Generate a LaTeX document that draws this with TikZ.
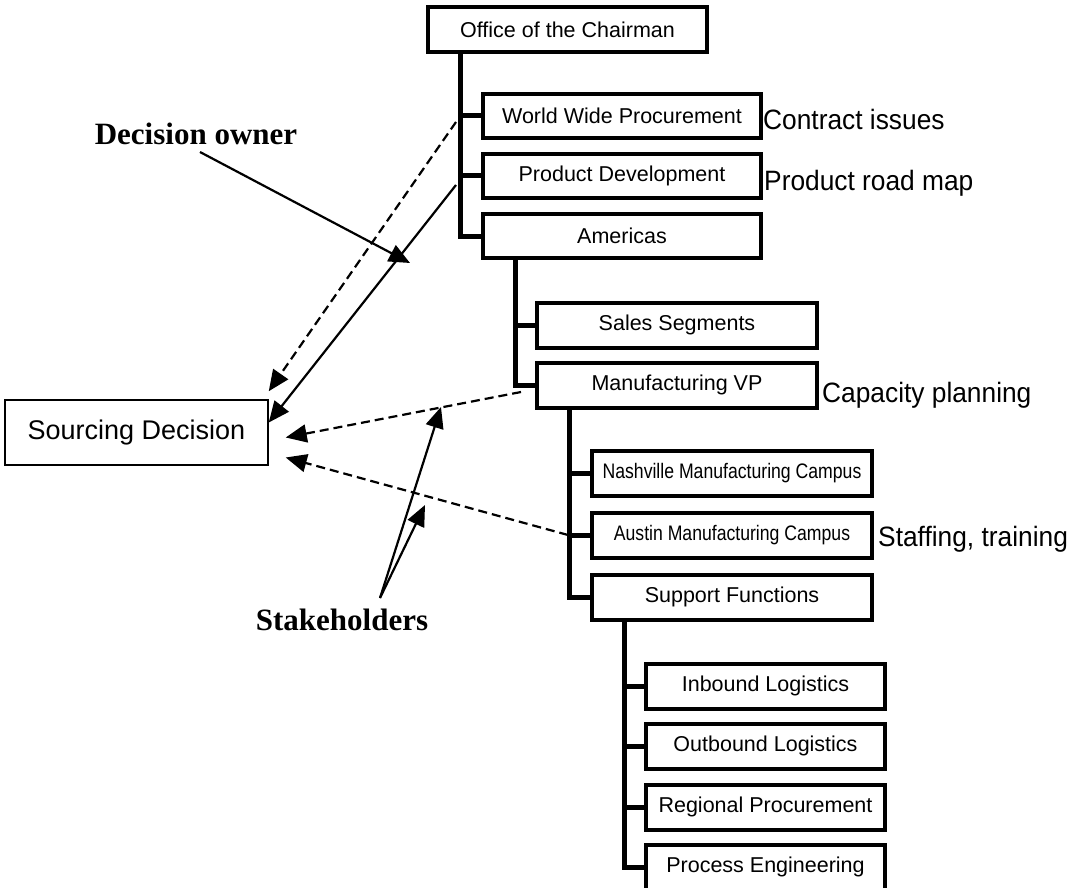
\documentclass[tikz,border=0pt]{standalone}
\usepackage{fontspec}
\setmainfont{Liberation Sans}
\newfontfamily\headfont{Liberation Serif}
\newfontfamily\narrowfont[FakeStretch=0.84]{Liberation Sans}
\newfontfamily\notefont[FakeStretch=0.94]{Liberation Sans}
\usetikzlibrary{arrows.meta}

\begin{document}
\begin{tikzpicture}[x=1pt,y=-1pt,
  orgbox/.style={draw, line width=4pt, inner sep=0pt, minimum height=44pt,
    font=\fontsize{21.5}{24}\selectfont},
  lvlzero/.style={orgbox, minimum width=279pt, minimum height=45pt},
  lvlone/.style={orgbox, minimum width=278pt},
  lvltwo/.style={orgbox, minimum width=280pt, minimum height=45pt},
  lvlthree/.style={orgbox, minimum width=280pt, minimum height=45pt},
  lvlfour/.style={orgbox, minimum width=239pt, minimum height=45pt},
  narrowtext/.style={font=\narrowfont\fontsize{21}{24}\selectfont},
  conn/.style={line width=5pt, line join=miter},
  note/.style={anchor=base west, inner sep=0pt, font=\notefont\fontsize{28}{32}\selectfont},
  callout/.style={anchor=base, inner sep=0pt, font=\headfont\bfseries\fontsize{31}{36}\selectfont},
  tip/.style={-{Triangle[length=21pt,width=18pt]}, line width=2.2pt},
  dashtip/.style={tip, dash pattern=on 9pt off 5pt}
]
\useasboundingbox (0,0) rectangle (1069,888);

% organisation chart boxes
\node[lvlzero] (chair) at (567.5,29.5) {Office of the Chairman};
\node[lvlone] (wwp) at (622,116) {World Wide Procurement};
\node[lvlone] (pd)  at (622,176) {Product Development};
\node[lvlone] (am)  at (622,236) {Americas};
\node[lvltwo] (sales) at (677,325) {Sales Segments};
\node[lvltwo] (mfg)   at (677,385) {Manufacturing VP};
\node[lvlthree, narrowtext] (nash)   at (732,473) {Nashville Manufacturing Campus};
\node[lvlthree, narrowtext] (austin) at (732,535) {Austin Manufacturing Campus};
\node[lvlthree] (supp) at (732,597) {Support Functions};
\node[lvlfour] (inb)  at (765.5,686) {Inbound Logistics};
\node[lvlfour] (outb) at (765.5,746) {Outbound Logistics};
\node[lvlfour] (reg)  at (765.5,807) {Regional Procurement};
\node[lvlfour] (proc) at (765.5,867) {Process Engineering};

% reporting lines
\draw[conn] ([xshift=34pt]chair.south west) |- (am.west);
\draw[conn] (wwp.west) -- ++(-21,0);
\draw[conn] (pd.west) -- ++(-21,0);
\draw[conn] ([xshift=34pt]am.south west) |- (mfg.west);
\draw[conn] (sales.west) -- ++(-21,0);
\draw[conn] ([xshift=34pt]mfg.south west) |- (supp.west);
\draw[conn] (nash.west) -- ++(-21,0);
\draw[conn] (austin.west) -- ++(-21,0);
\draw[conn] ([xshift=34pt]supp.south west) |- (proc.west);
\draw[conn] (inb.west) -- ++(-20,0);
\draw[conn] (outb.west) -- ++(-20,0);
\draw[conn] (reg.west) -- ++(-20,0);

% side notes
\node[note] (n1) at (763,130) {Contract issues};
\node[note] (n2) at (764,190) {Product road map};
\node[note] (n3) at (822,402) {Capacity planning};
\node[note] (n4) at (878,546) {Staffing, training};

% the decision
\node[draw, line width=1.5pt, minimum width=263pt, minimum height=65pt, inner sep=0pt,
  font=\fontsize{27}{31}\selectfont] (src) at (136.5,432.5) {Sourcing Decision};

% influence arrows
\coordinate (wwpS) at ([xshift=-25pt,yshift=-6pt]wwp.west);
\coordinate (pdS)  at ([xshift=-25pt,yshift=-9pt]pd.west);
\coordinate (mfgS) at ([xshift=-14pt,yshift=-7pt]mfg.west);
\coordinate (ausS) at ([xshift=-22pt]austin.west);
\draw[dashtip] (wwpS) -- ([yshift=8pt]src.north east);
\draw[tip] (pdS) -- ([yshift=10pt]src.east);
\draw[dashtip] (mfgS) -- ([xshift=17pt,yshift=-5pt]src.east);
\draw[dashtip] (ausS) -- ([xshift=17pt,yshift=-25pt]src.east);

% callouts
\node[callout] (own) at (196,145) {Decision owner};
\node[callout] (stk) at (342,630) {Stakeholders};
\coordinate (ownT) at (410,263);
\coordinate (stkA) at (441,407);
\coordinate (stkB) at (425,505);
\draw[tip] ([xshift=4pt,yshift=-7pt]own.base) -- (ownT);
\draw[tip] ([xshift=38pt,yshift=32pt]stk.base) -- (stkA);
\draw[tip] ([xshift=38pt,yshift=32pt]stk.base) -- (stkB);
\end{tikzpicture}
\end{document}
